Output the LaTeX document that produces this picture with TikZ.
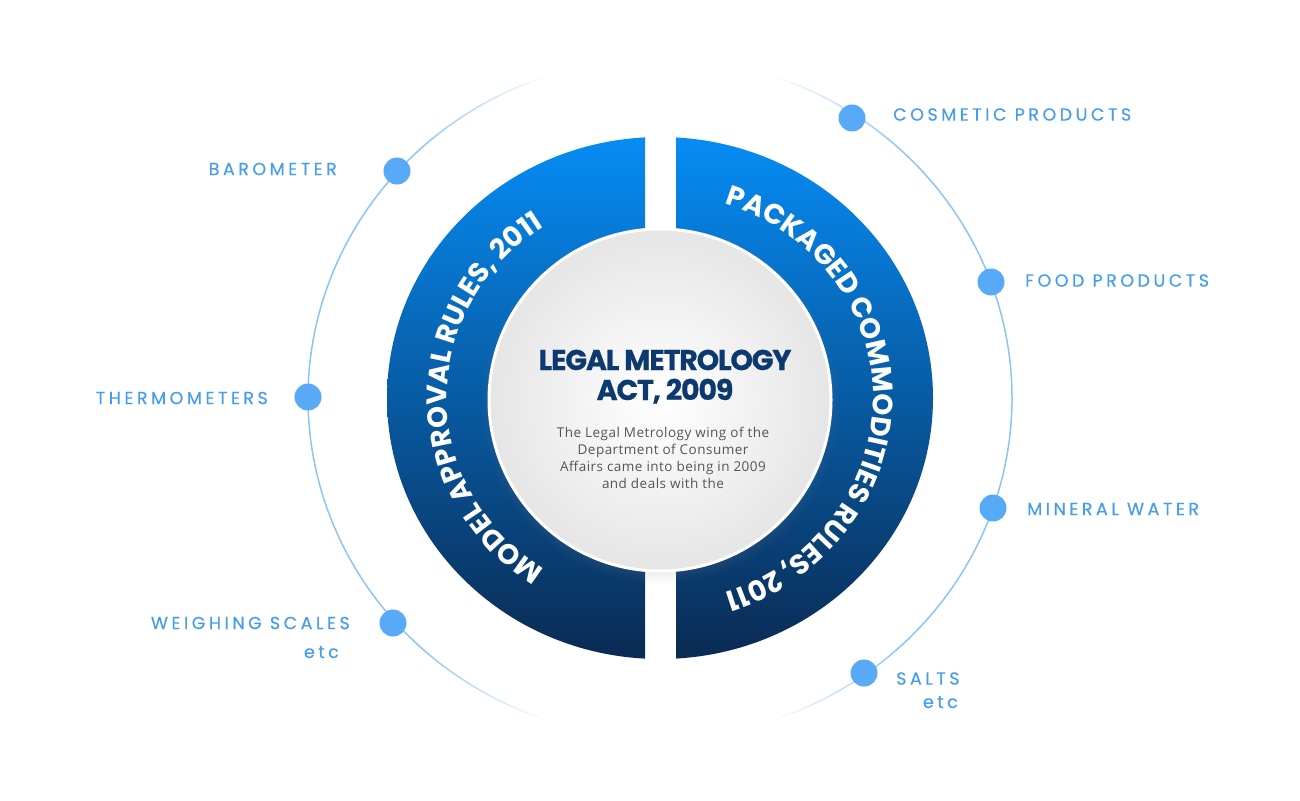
\documentclass[tikz,border=0pt]{standalone}
\usepackage{fontspec}
\usepackage{tikz}
\usetikzlibrary{arrows,shapes,positioning,decorations.text,shadows}
\newfontfamily\popfont{Poppins}
\newfontfamily\lblfont[LetterSpace=20,FakeBold=0.4]{Poppins}
\newfontfamily\headfont[LetterSpace=-4,FakeBold=0.6]{Poppins}
\newfontfamily\bodyfont[LetterSpace=3.5]{Open Sans}
\definecolor{ringblue}{RGB}{140,196,245}
\definecolor{dotblue}{RGB}{88,170,246}
\definecolor{lblblue}{RGB}{70,158,235}
\definecolor{bandtop}{RGB}{6,140,244}
\definecolor{bandbot}{RGB}{10,42,82}
\definecolor{navy}{RGB}{12,58,110}
\definecolor{bodygray}{RGB}{85,85,85}

\begin{document}
\begin{tikzpicture}[x=1pt,y=-1pt,
 ring/.style={ringblue,line width=1.5pt},
 dot/.style={circle,fill=dotblue,minimum size=27pt,inner sep=0pt},
 lbl/.style={lblblue,font=\lblfont\fontsize{17.5}{19}\selectfont,inner sep=0pt}]
\useasboundingbox (0,0) rectangle (1300,800);
\coordinate (c) at (660,398); \coordinate (o) at (660,400);
%thin ring, fading out at top and bottom
\draw[ring] (c) ++(-48:352 and 340) arc[start angle=-48,end angle=48,x radius=352,y radius=340];
\draw[ring] (c) ++(132:352 and 340) arc[start angle=132,end angle=228,x radius=352,y radius=340];
\foreach \k in {0,...,22}{\pgfmathsetmacro\op{1-(\k+1)/24}
 \draw[ring,opacity=\op] (c) ++(48+\k:352 and 340) arc[start angle=48+\k,end angle=49+\k,x radius=352,y radius=340];
 \draw[ring,opacity=\op] (c) ++(-48-\k:352 and 340) arc[start angle=-48-\k,end angle=-49-\k,x radius=352,y radius=340];
 \draw[ring,opacity=\op] (c) ++(132-\k:352 and 340) arc[start angle=132-\k,end angle=131-\k,x radius=352,y radius=340];
 \draw[ring,opacity=\op] (c) ++(228+\k:352 and 340) arc[start angle=228+\k,end angle=229+\k,x radius=352,y radius=340];}
%the two blue half rings
\begin{scope} \clip (0,0) rectangle (645,800); \shade[top color=bandtop,bottom color=bandbot] (c) ellipse (273 and 261); \end{scope}
\begin{scope} \clip (676,0) rectangle (1300,800); \shade[top color=bandtop,bottom color=bandbot] (c) ellipse (273 and 261); \end{scope}
%texts on the rings
\path[decorate,decoration={text along path,text align=center,text color=white,text={|\popfont\bfseries\fontsize{28}{28}\selectfont|MODEL APPROVAL RULES, 2011}}] (c) ++(100:213 and 204) arc[start angle=100,end angle=260,x radius=213,y radius=204];
\path[decorate,decoration={text along path,text align=center,text color=white,text={|\popfont\bfseries\fontsize{28}{28}\selectfont|PACKAGED COMMODITIES RULES, 2011}}] (c) ++(-88:213 and 204) arc[start angle=-88,end angle=88,x radius=213,y radius=204];
%centre disc
\node[circle,minimum size=342pt,inner sep=0pt,draw=white,line width=3pt,inner color=white,outer color=black!10,circular drop shadow={shadow xshift=0pt,shadow yshift=-4pt,shadow scale=1.05,opacity=.3}] (core) at (o) {};
\node[navy,anchor=base,inner sep=0pt,font=\headfont\bfseries\fontsize{28.5}{30}\selectfont] (title) at (665,370) {LEGAL METROLOGY};
\node[navy,anchor=base,inner sep=0pt,font=\headfont\bfseries\fontsize{28.5}{30}\selectfont] (act) at (665,400) {ACT, 2009};
\node[bodygray,anchor=north,align=center,inner sep=0pt,font=\bodyfont\fontsize{13.5}{17}\selectfont] (body) at (663,427) {The Legal Metrology wing of the\\Department of Consumer\\Affairs came into being in 2009\\and deals with the};
%dots and labels, left
\node[dot] (baro) at (397,171) {}; \node[lbl,anchor=east] (barol) at (337,169) {BAROMETER};
\node[dot] (thermo) at (308,397) {}; \node[lbl,anchor=east] (thermol) at (268,398) {THERMOMETERS};
\node[dot] (weigh) at (393,623) {}; \node[lbl,anchor=east] (weighl) at (350,623) {WEIGHING SCALES};
\node[lbl,anchor=base east] (weighetc) at (339,658) {etc};
%dots and labels, right
\node[dot] (cosm) at (852,118) {}; \node[lbl,anchor=west] (cosml) at (893,114.5) {COSMETIC PRODUCTS};
\node[dot] (food) at (991,282) {}; \node[lbl,anchor=west] (foodl) at (1025,280.5) {FOOD PRODUCTS};
\node[dot] (water) at (993,508) {}; \node[lbl,anchor=west] (waterl) at (1027,509) {MINERAL WATER};
\node[dot] (salt) at (864,673) {}; \node[lbl,anchor=west] (saltl) at (896,678.5) {SALTS};
\node[lbl,anchor=base east] (saltetc) at (958,708) {etc};
\end{tikzpicture}
\end{document}
